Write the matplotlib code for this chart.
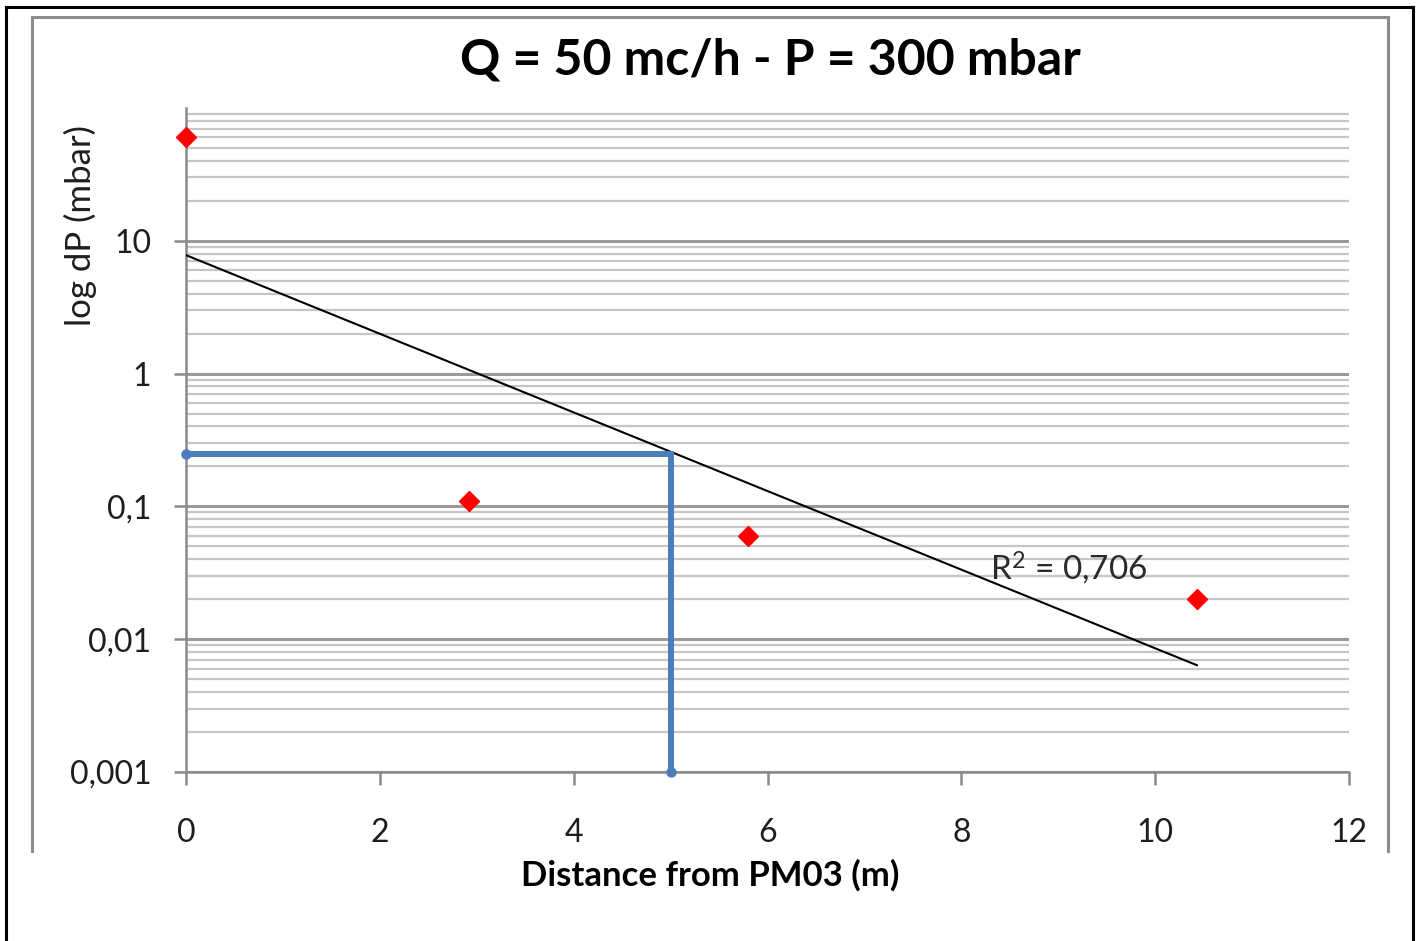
import numpy as np
import matplotlib
matplotlib.use("Agg")
import matplotlib.pyplot as plt
from matplotlib.ticker import FixedLocator, FixedFormatter, LogLocator, NullFormatter
from matplotlib.lines import Line2D

# ---- data ----
distance = [0.0, 2.92, 5.80, 10.43]
dp = [60.0, 0.11, 0.06, 0.02]
ref_x = [0.0, 5.0, 5.0]
ref_y = [0.25, 0.25, 0.001]
xticks = [0, 2, 4, 6, 8, 10, 12]
xtick_labels = ['0', '2', '4', '6', '8', '10', '12']
yticks = [0.001, 0.01, 0.1, 1, 10]
ytick_labels = ['0,001', '0,01', '0,1', '1', '10']
title = 'Q = 50 mc/h - P = 300 mbar'
xlabel = 'Distance from PM03 (m)'
ylabel = 'log dP (mbar)'

plt.rcParams['font.family'] = ['Lato', 'DejaVu Sans']
plt.rcParams['mathtext.fontset'] = 'custom'
plt.rcParams['mathtext.rm'] = 'Lato'
plt.rcParams['mathtext.it'] = 'Lato'

W, H = 1418, 941
fig = plt.figure(figsize=(W / 100, H / 100), dpi=100)

def fx(px):
    return px / W

def fy(py):
    return 1 - py / H

ax = fig.add_axes([fx(186), fy(772), fx(1349) - fx(186), fy(108) - fy(772)])
ax.set_yscale('log')
ax.set_xlim(0, 12)
ax.set_ylim(0.001, 100)

# gridlines
ax.yaxis.set_major_locator(FixedLocator(yticks))
ax.yaxis.set_major_formatter(FixedFormatter(ytick_labels))
ax.yaxis.set_minor_locator(LogLocator(base=10, subs=np.arange(2, 10), numticks=20))
ax.yaxis.set_minor_formatter(NullFormatter())
ax.grid(axis='y', which='major', color='#9a9a9a', lw=2.2, zorder=0)
ax.grid(axis='y', which='minor', color='#c6c6c6', lw=1.6, zorder=0)
ax.set_axisbelow(True)

ax.set_xticks(xticks)
ax.set_xticklabels(xtick_labels)

for s in ['top', 'right']:
    ax.spines[s].set_visible(False)
for s in ['left', 'bottom']:
    ax.spines[s].set_color('#8a8a8a')
    ax.spines[s].set_linewidth(1.8)

ax.tick_params(axis='both', which='major', direction='out', length=9, width=1.8,
               color='#8a8a8a', labelsize=23, labelcolor='#1e1e1e')
ax.tick_params(axis='y', which='major', pad=16)
ax.tick_params(axis='x', which='major', pad=24)
ax.tick_params(axis='y', which='minor', length=0)

# trendline (exponential fit)
coef = np.polyfit(distance, np.log(dp), 1)
xs = np.linspace(min(distance), max(distance), 200)
ys = np.exp(np.polyval(coef, xs))
pred = np.polyval(coef, distance)
lny = np.log(dp)
r2 = 1 - np.sum((lny - pred) ** 2) / np.sum((lny - lny.mean()) ** 2)
ax.plot(xs, ys, color='black', lw=1.5, zorder=3)

# reference line
ax.plot(ref_x, ref_y, color='#4A7EBB', lw=4.3, marker='o', markersize=6.5,
        markevery=[0, 2], solid_joinstyle='miter', zorder=4, clip_on=False)

# data points
ax.plot(distance, dp, linestyle='none', marker='D', markersize=10,
        color='#FF0000', zorder=5, clip_on=False)

ax.text(8.30, 0.034, r'R$^2$ = ' + f'{r2:.3f}'.replace('.', ','), fontsize=24,
        color='#2a2a2a', ha='left', va='center', zorder=6)

# texts
fig.text(fx(770), fy(60), title, fontsize=36, fontweight='bold', ha='center', va='center')
fig.text(fx(710), fy(875), xlabel, fontsize=25, fontweight='bold', ha='center', va='center')
fig.text(fx(80), fy(225), ylabel, fontsize=25, rotation=90, ha='center', va='center',
         color='#1e1e1e')

# inner chart frame (gray) and outer border (black)
gray = '#8c8c8c'
fig.add_artist(Line2D([fx(32), fx(32)], [fy(851), fy(17)], color=gray, lw=2.2))
fig.add_artist(Line2D([fx(32), fx(1388)], [fy(17), fy(17)], color=gray, lw=2.2))
fig.add_artist(Line2D([fx(1388), fx(1388)], [fy(17), fy(851)], color=gray, lw=2.2))
fig.add_artist(Line2D([fx(6), fx(6)], [fy(7), fy(941)], color='black', lw=2.2))
fig.add_artist(Line2D([fx(6), fx(1413)], [fy(7), fy(7)], color='black', lw=2.2))
fig.add_artist(Line2D([fx(1413), fx(1413)], [fy(7), fy(941)], color='black', lw=2.2))

fig.savefig('out.png', dpi=100)
